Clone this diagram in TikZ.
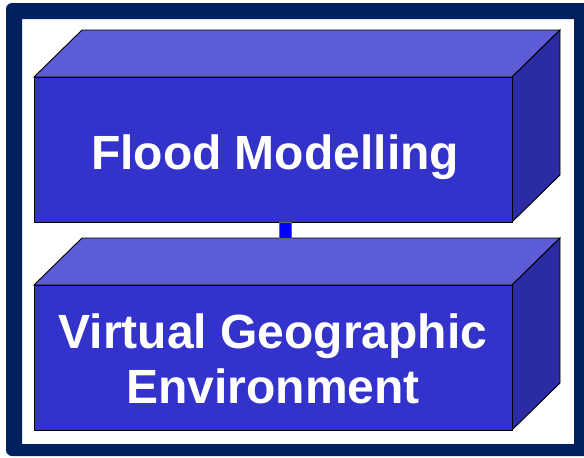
\documentclass[tikz,border=0pt]{standalone}
\usepackage{fontspec}
\setmainfont{Liberation Sans}
\definecolor{navy}{HTML}{002060}
\definecolor{frontc}{HTML}{3333CC}
\definecolor{topc}{HTML}{5C5CD6}
\definecolor{sidec}{HTML}{2B2BA3}
\begin{document}
\begin{tikzpicture}[x=1pt,y=-1pt,
  front/.style={draw=black,line width=0.9pt,fill=frontc,minimum width=478pt,minimum height=145pt,inner sep=0pt,outer sep=0pt},
  topface/.style={draw=black,line width=0.9pt,fill=topc,line join=miter},
  sideface/.style={draw=black,line width=0.9pt,fill=sidec,line join=miter},
  label/.style={text=white,font=\fontsize{48}{55}\selectfont\bfseries,anchor=base,inner sep=0pt},
  conn/.style={draw=black!60,line width=0.5pt,fill=blue}]
\useasboundingbox (0,0) rectangle (584,458);
% frame
\fill[navy,even odd rule] [rounded corners=6pt] (6,3) rectangle (592,456) [sharp corners] (22,19) rectangle (574,444);
% top box
\node[front] (flood) at (273,149.5) {};
\fill[topface] (flood.north west) -- ++(48,-47) -- ([shift={(48,-47)}]flood.north east) -- (flood.north east) -- cycle;
\fill[sideface] (flood.north east) -- ++(48,-47) -- ([shift={(48,-47)}]flood.south east) -- (flood.south east) -- cycle;
\node[front] (flood2) at (273,149.5) {};
% bottom box
\node[front] (vge) at (273,357.5) {};
\fill[topface] (vge.north west) -- ++(48,-47) -- ([shift={(48,-47)}]vge.north east) -- (vge.north east) -- cycle;
\fill[sideface] (vge.north east) -- ++(48,-47) -- ([shift={(48,-47)}]vge.south east) -- (vge.south east) -- cycle;
\node[front] (vge2) at (273,357.5) {};
% connector
\coordinate (cA) at ([xshift=6pt]flood.south);
\coordinate (cB) at ([shift={(18,-47)}]vge.north);
\filldraw[conn] (cA) rectangle (cB);
% labels
\node[label] (t1) at (275,169) {Flood Modelling};
\node[label] (t2) at (273,348) {Virtual Geographic};
\node[label] (t3) at (273,403) {Environment};
\end{tikzpicture}
\end{document}
